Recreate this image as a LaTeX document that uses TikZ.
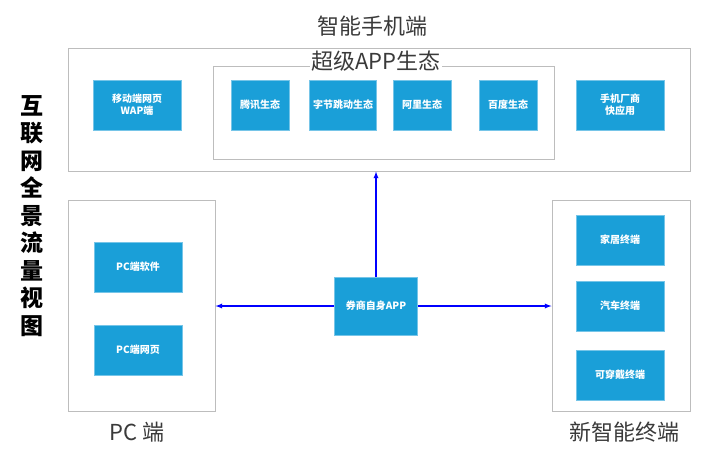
\documentclass[tikz,border=0pt]{standalone}
\usepackage{fontspec}
\setmainfont{Noto Sans CJK SC}
\usetikzlibrary{arrows}
\definecolor{boxblue}{HTML}{1A9FD8}
\definecolor{frame}{HTML}{BDBDBD}
\definecolor{title}{HTML}{3A3A3A}
\tikzstyle{block}=[rectangle, fill=boxblue, draw=boxblue!60!white, line width=0.6pt,
  text=white, font=\fontsize{10}{12}\selectfont\bfseries, align=center,
  inner sep=0pt, minimum height=50pt]
\tikzstyle{area}=[rectangle, draw=frame, line width=1pt, inner sep=0pt]
\tikzstyle{caption}=[text=title, font=\fontsize{22}{24}\selectfont, inner sep=0pt]
\newcommand{\block}{\node[block]}
\newcommand{\area}{\node[area]}

\begin{document}
\begin{tikzpicture}[x=1pt, y=-1pt
    ,link/.style={draw=blue, line width=1.3pt, -latex}
]
\useasboundingbox (0,0) rectangle (720,453);
% frames
\area[minimum width=622pt, minimum height=123pt] (phone) at (379,109.5) {};
\area[minimum width=341pt, minimum height=93pt] (eco) at (383.5,112.5) {};
\area[minimum width=147pt, minimum height=211pt] (pc) at (141.5,305.5) {};
\area[minimum width=138pt, minimum height=211pt] (newterm) at (621,305.5) {};
% captions
\node[caption] (phonet) at (372,26) {智能手机端};
\node[caption, fill=white, inner xsep=1pt] (ecot) at (376,61) {超级APP生态};
\node[caption] (pct) at (137,432) {PC 端};
\node[caption] (newt) at (624,432) {新智能终端};
\node[font=\fontsize{23}{27.5}\selectfont\bfseries, align=center, inner sep=0pt]
  (side) at (32,216) {互\\联\\网\\全\\景\\流\\量\\视\\图};
% top row
\block[minimum width=88pt] (wap) at (137,105) {移动端网页\\WAP端};
\block[minimum width=58pt] (tencent) at (260,105) {腾讯生态};
\block[minimum width=67pt] (bytedance) at (343,105) {字节跳动生态};
\block[minimum width=58pt] (ali) at (422,105) {阿里生态};
\block[minimum width=58pt] (baidu) at (508,105) {百度生态};
\block[minimum width=88pt] (vendor) at (620,105) {手机厂商\\快应用};
% pc
\block[minimum width=88pt] (pcsoft) at (138,267) {PC端软件};
\block[minimum width=88pt] (pcweb) at (138,350) {PC端网页};
% new terminals
\block[minimum width=88pt] (home) at (620,240) {家居终端};
\block[minimum width=88pt] (car) at (620,306) {汽车终端};
\block[minimum width=88pt] (wear) at (620,375) {可穿戴终端};
% broker
\block[minimum width=83pt, minimum height=58pt] (broker) at (376,306) {券商自身APP};
\path[link] (broker.north) -- (broker.north |- phone.south);
\path[link] (broker.west) -- (broker.west -| pc.east);
\path[link] (broker.east) -- (broker.east -| newterm.west);
\end{tikzpicture}
\end{document}
